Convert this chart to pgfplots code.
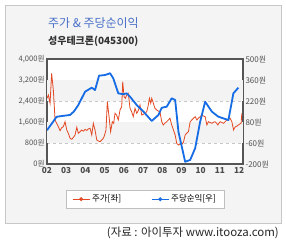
\documentclass[border=0pt]{standalone}
\usepackage{pgfplots}
\pgfplotsset{compat=1.18}
\usepackage{fontspec}
\setmainfont{Noto Sans CJK KR}
\definecolor{redl}{RGB}{228,72,34}
\definecolor{bluel}{RGB}{22,108,228}
\definecolor{titleblue}{RGB}{70,110,200}
\definecolor{panel}{RGB}{244,244,244}
\definecolor{frame}{RGB}{85,85,85}
\definecolor{tickc}{RGB}{80,80,80}
\definecolor{band}{RGB}{243,243,243}
\begin{document}
\begin{tikzpicture}[x=1bp,y=1bp]
\useasboundingbox (0,0) rectangle (286,241);
\fill[white] (0,0) rectangle (286,241);
\filldraw[fill=panel,draw=black!22,line width=0.8bp] (5,18) rectangle (281,236);
\node[anchor=west,font=\fontsize{12}{14}\selectfont,text=titleblue,inner sep=0] at (48,218) {주가 \& 주당순이익};
\node[anchor=west,font=\fontsize{10}{12}\selectfont\bfseries,text=black!80,inner sep=0] at (48,200) {성우테크론(045300)};
\node[anchor=east,font=\fontsize{11.5}{12}\selectfont,text=black!85,inner sep=0] at (279,8.5) {(자료 : 아이투자 www.itooza.com)};
\begin{axis}[
  at={(47bp,77bp)}, anchor=south west,
  width=196bp, height=105bp, scale only axis,
  xmin=2, xmax=12.2, ymin=0, ymax=4000,
  axis background/.style={fill=white},
  axis line style={frame,line width=1.6bp},
  xtick={2,3,4,5,6,7,8,9,10,11,12},
  xticklabels={02,03,04,05,06,07,08,09,10,11,12},
  ytick={0,800,1600,2400,3200,4000},
  yticklabels={0원,800원,{1,600원},{2,400원},{3,200원},{4,000원}},
  yticklabel pos=left, xticklabel pos=bottom,
  tick style={draw=none},
  ticklabel style={font=\fontsize{7.6}{9}\selectfont,text=tickc},
  yticklabel style={xshift=1bp},
  xticklabel style={font=\fontsize{8.3}{9}\selectfont\bfseries,text=black!70},
  ymajorgrids, grid style={dashed,black!22,line width=0.6bp},
  clip=true,
  legend style={at={(0.5,-0.25)},anchor=north,draw=black!25,fill=white,
    font=\fontsize{8.5}{10}\selectfont,legend columns=2,
    /tikz/every even column/.append style={column sep=28bp},
    inner xsep=6bp,inner ysep=2.5bp},
  legend cell align=left,
]
\fill[band] (rel axis cs:0,0.2) rectangle (rel axis cs:1,0.4);
\fill[band] (rel axis cs:0,0.6) rectangle (rel axis cs:1,0.8);
\addlegendimage{redl,line width=1bp,mark=o,mark options={fill=white,scale=0.7}}
\addlegendentry{주가[좌]}
\addlegendimage{bluel,line width=1bp,mark=o,mark options={fill=white,scale=0.7}}
\addlegendentry{주당순익[우]}
\addplot[redl,line width=0.8bp,no marks] coordinates {
(2.0,2500)(2.07,2629)(2.16,2312)(2.24,3455)(2.33,2819)(2.42,1676)(2.5,1550)(2.59,1421)(2.68,1269)(2.76,1380)
(2.85,1421)(2.94,1611)(3.03,1295)(3.12,1150)(3.2,979)(3.29,941)(3.38,1020)(3.46,1105)(3.55,1398)(3.63,1169)
(3.72,1230)(3.81,1295)(3.9,1250)(3.98,1322)(4.07,1280)(4.16,1340)(4.24,1360)(4.33,1105)(4.41,1550)(4.5,1295)
(4.59,914)(4.67,880)(4.76,850)(4.85,914)(4.93,980)(4.97,1040)(5.07,1295)(5.14,2373)(5.23,1802)(5.31,1230)
(5.4,1611)(5.47,1550)(5.54,1931)(5.62,1867)(5.71,1676)(5.8,2057)(5.89,2183)(5.94,3135)(6.01,2565)(6.08,2503)
(6.15,2629)(6.23,2693)(6.32,2122)(6.4,2000)(6.49,1802)(6.58,2122)(6.67,1931)(6.76,2050)(6.84,2248)(6.93,1867)
(7.02,1900)(7.1,1931)(7.19,1992)(7.26,2200)(7.33,2503)(7.4,2312)(7.45,2503)(7.54,2300)(7.62,2122)(7.71,2057)
(7.8,2010)(7.88,1992)(7.97,1611)(8.05,1486)(8.14,1560)(8.23,1611)(8.32,1680)(8.4,1741)(8.49,1486)(8.58,1300)
(8.67,1105)(8.75,789)(8.84,724)(8.93,760)(9.02,750)(9.1,827)(9.19,1105)(9.28,1180)(9.36,1230)(9.45,1611)
(9.54,1680)(9.62,1741)(9.71,1802)(9.8,1676)(9.88,1750)(9.97,1802)(10.06,1867)(10.14,1830)(10.23,1802)(10.32,1486)
(10.4,1611)(10.49,1580)(10.58,1550)(10.66,1590)(10.75,1611)(10.82,1560)(10.89,1486)(10.95,1560)(11.01,1611)(11.1,1580)
(11.19,1550)(11.28,1620)(11.36,1676)(11.45,1700)(11.53,1741)(11.62,1611)(11.71,1295)(11.76,1380)(11.82,1421)(11.9,1450)
(11.96,1486)(12.05,1530)(12.1,1550)(12.14,1931)
};
\end{axis}
\begin{axis}[
  at={(47bp,77bp)}, anchor=south west,
  width=196bp, height=105bp, scale only axis,
  xmin=2, xmax=12.2, ymin=-200, ymax=500,
  axis y line*=right, axis x line=none,
  ytick={-200,-60,80,220,360,500},
  yticklabels={-200원,-60원,80원,220원,360원,500원},
  tick style={draw=none},
  axis line style={draw=none},
  ticklabel style={font=\fontsize{8}{9}\selectfont,text=tickc},
  yticklabel style={xshift=-1bp},
  clip=true,
]
\addplot[bluel,line width=1.8bp,no marks,line join=round] coordinates {
(2.0,25)(2.5,115)(2.9,122)(3.2,127)(3.4,150)(3.63,193)(3.98,282)(4.33,309)(4.5,293)(4.71,389)
(5.02,393)(5.28,405)(5.45,371)(5.71,271)(5.97,265)(6.15,271)(6.32,249)(6.67,193)(7.02,149)(7.45,87)
(7.8,127)(7.97,175)(8.23,182)(8.49,238)(8.67,227)(8.84,15)(9.19,-185)(9.45,-173)(9.71,-95)(9.97,82)
(10.23,215)(10.58,149)(10.92,115)(11.44,93)(11.7,271)(11.96,309)
};
\end{axis}
\end{tikzpicture}
\end{document}
